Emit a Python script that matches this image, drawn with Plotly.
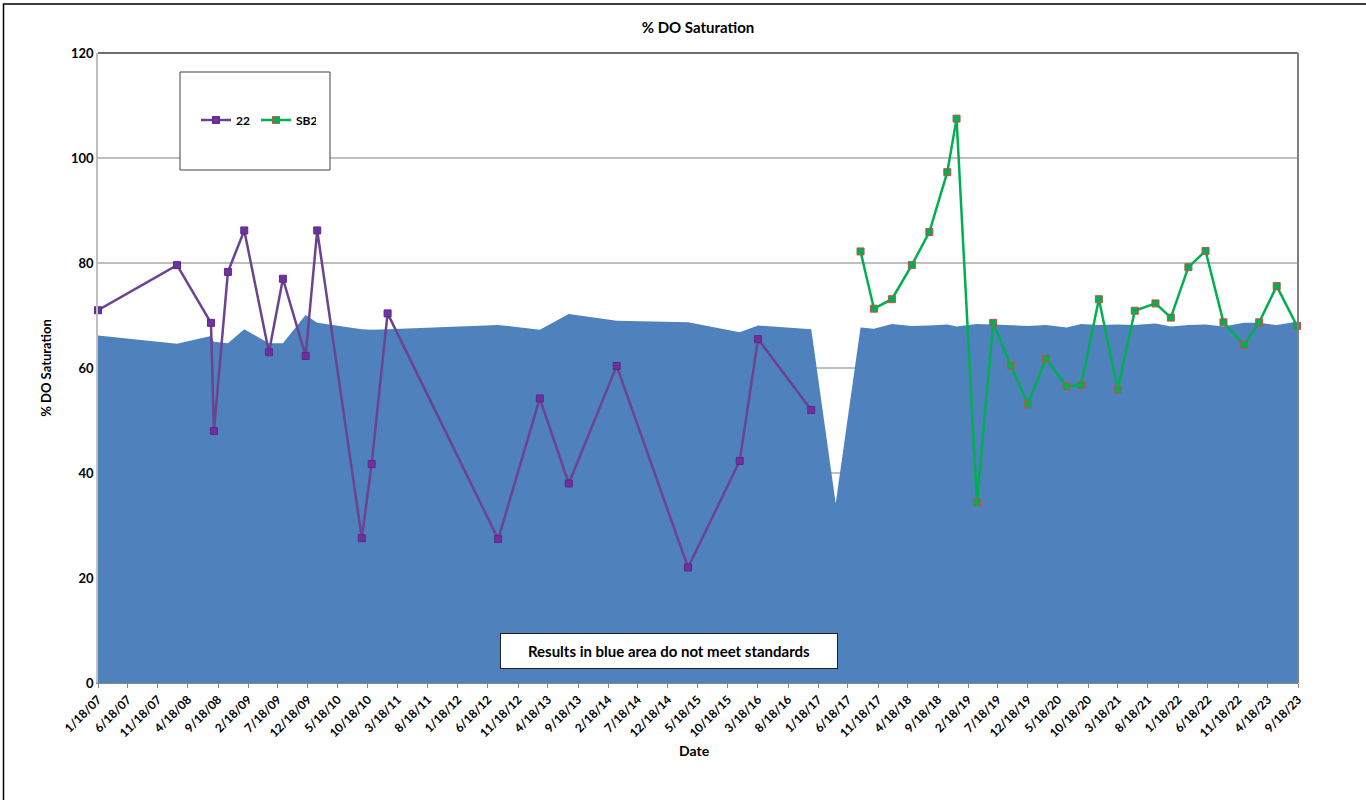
import pandas as pd
import plotly.graph_objects as go

# ---------------- data ----------------
site22_dates = ["2007-01-18", "2008-02-23", "2008-08-13", "2008-08-28", "2008-11-07",
                "2009-01-29", "2009-06-03", "2009-08-13", "2009-12-06", "2010-02-03",
                "2010-09-17", "2010-11-06", "2011-01-26", "2012-08-09", "2013-03-08",
                "2013-08-02", "2014-04-02", "2015-03-30", "2015-12-17", "2016-03-19",
                "2016-12-14"]
site22_values = [71.0, 79.6, 68.6, 48.0, 78.3, 86.2, 63.0, 77.0, 62.3, 86.2,
                 27.6, 41.7, 70.4, 27.4, 54.2, 38.0, 60.4, 22.0, 42.3, 65.5, 52.0]

sb2_dates = ["2017-08-21", "2017-10-28", "2018-01-27", "2018-05-08", "2018-08-05",
             "2018-11-04", "2018-12-21", "2019-04-03", "2019-06-25", "2019-09-22",
             "2019-12-18", "2020-03-18", "2020-07-01", "2020-09-13", "2020-12-12",
             "2021-03-18", "2021-06-12", "2021-09-25", "2021-12-12", "2022-03-11",
             "2022-06-06", "2022-09-05", "2022-12-19", "2023-03-05", "2023-06-02",
             "2023-09-13"]
sb2_values = [82.2, 71.3, 73.1, 79.6, 85.9, 97.3, 107.5, 34.4, 68.6, 60.5,
              53.1, 61.8, 56.5, 56.8, 73.1, 55.9, 70.9, 72.3, 69.6, 79.2,
              82.3, 68.7, 64.4, 68.7, 75.6, 68.0]

standard_dates = site22_dates + ["2017-04-17"] + sb2_dates
standard_values = [66.2, 64.6, 66.1, 65.0, 64.7, 67.4, 64.7, 64.7, 70.1, 68.6,
                   67.4, 67.3, 67.4, 68.2, 67.3, 70.3, 69.0, 68.7, 66.8, 68.1, 67.4,
                   34.2,
                   67.7, 67.5, 68.4, 68.0, 68.1, 68.3, 67.9, 68.4, 68.3, 68.1,
                   68.0, 68.2, 67.7, 68.4, 68.2, 68.3, 68.2, 68.5, 67.9, 68.2,
                   68.3, 67.9, 68.6, 68.6, 68.2, 68.8]

tick_labels = ["1/18/07", "6/18/07", "11/18/07", "4/18/08", "9/18/08", "2/18/09",
               "7/18/09", "12/18/09", "5/18/10", "10/18/10", "3/18/11", "8/18/11",
               "1/18/12", "6/18/12", "11/18/12", "4/18/13", "9/18/13", "2/18/14",
               "7/18/14", "12/18/14", "5/18/15", "10/18/15", "3/18/16", "8/18/16",
               "1/18/17", "6/18/17", "11/18/17", "4/18/18", "9/18/18", "2/18/19",
               "7/18/19", "12/18/19", "5/18/20", "10/18/20", "3/18/21", "8/18/21",
               "1/18/22", "6/18/22", "11/18/22", "4/18/23", "9/18/23"]
tick_vals = pd.to_datetime(tick_labels, format="%m/%d/%y")

FONT = "Lato"

fig = go.Figure()

fig.add_trace(go.Scatter(
    x=pd.to_datetime(standard_dates), y=standard_values,
    mode="lines", fill="tozeroy", fillcolor="#4F81BD",
    line=dict(color="#4F81BD", width=0), showlegend=False, hoverinfo="skip"))

fig.add_trace(go.Scatter(
    x=pd.to_datetime(site22_dates), y=site22_values, name="22",
    mode="lines+markers", cliponaxis=False,
    line=dict(color="#6A4391", width=2.5),
    marker=dict(symbol="square", size=7, color="#7030A0",
                line=dict(color="#5A2A85", width=1))))

fig.add_trace(go.Scatter(
    x=pd.to_datetime(sb2_dates), y=sb2_values, name="SB2",
    mode="lines+markers", cliponaxis=False,
    line=dict(color="#00B050", width=2.5),
    marker=dict(symbol="square", size=7, color="#00B050",
                line=dict(color="#C0504D", width=1))))

L, R, T, B = 98, 68, 53, 117
W, H = 1366, 800
pw, ph = W - L - R, H - T - B


def px_x(p):
    return (p - L) / pw


def px_y(p):
    return (H - B - p) / ph


fig.update_layout(
    width=W, height=H,
    margin=dict(l=L, r=R, t=T, b=B),
    paper_bgcolor="white", plot_bgcolor="white",
    font=dict(family=FONT, color="#000000", size=11),
    title=dict(text="<b>% DO Saturation</b>", x=0.5, xref="paper",
               y=1 - 28 / H, yanchor="middle", yref="container",
               font=dict(size=15, family=FONT)),
    showlegend=True,
    legend=dict(orientation="h", x=px_x(196), y=px_y(120),
                xanchor="left", yanchor="middle",
                bgcolor="rgba(0,0,0,0)", borderwidth=0,
                font=dict(size=12, family=FONT, weight="bold"),
                itemwidth=30, entrywidth=15, tracegroupgap=0),
    xaxis=dict(type="date",
               range=[tick_vals[0], tick_vals[-1]],
               tickmode="array", tickvals=tick_vals, ticktext=tick_labels,
               tickangle=-45, tickfont=dict(size=12, family=FONT, weight="bold"),
               ticks="outside", ticklen=4, tickcolor="#868686",
               showline=True, linecolor="#868686", linewidth=1,
               showgrid=False, zeroline=False),
    yaxis=dict(range=[0, 120], dtick=20, tick0=0,
               tickfont=dict(size=13, family=FONT, weight="bold"),
               ticks="", showline=True, linecolor="#BFBFBF", linewidth=1.5,
               showgrid=True, gridcolor="#BFBFBF", gridwidth=1.5,
               zeroline=False,
               title=dict(text="<b>% DO Saturation</b>", standoff=16,
                          font=dict(size=13, family=FONT))),
)

# plot-area frame (top dark, right grey)
fig.add_shape(type="line", xref="paper", yref="paper", x0=0, x1=1, y0=1, y1=1,
              line=dict(color="#404040", width=1.5), layer="above")
fig.add_shape(type="line", xref="paper", yref="paper", x0=1, x1=1, y0=0, y1=1,
              line=dict(color="#808080", width=2), layer="above")

# outer chart border
fig.add_shape(type="rect", xref="paper", yref="paper",
              x0=px_x(3.5), x1=px_x(1380), y0=px_y(4), y1=px_y(820),
              line=dict(color="#000000", width=1.5), fillcolor="rgba(0,0,0,0)")

# legend box
fig.add_shape(type="rect", xref="paper", yref="paper",
              x0=px_x(180), x1=px_x(330), y0=px_y(170), y1=px_y(72),
              line=dict(color="#404040", width=1), fillcolor="white", layer="above")

# note box
fig.add_annotation(text="<b>Results in blue area do not meet standards</b>",
                   xref="paper", yref="paper", x=px_x(669), y=px_y(651),
                   xanchor="center", yanchor="middle", showarrow=False,
                   width=330, height=28, bgcolor="white",
                   bordercolor="#202020", borderwidth=1, borderpad=3,
                   font=dict(size=15, family=FONT, color="#000000"))

# x-axis title
fig.add_annotation(text="<b>Date</b>", xref="paper", yref="paper",
                   x=px_x(694), y=px_y(750), xanchor="center", yanchor="middle",
                   showarrow=False, font=dict(size=14, family=FONT))

fig.write_html("out.html", config={"displayModeBar": False},
               post_script="document.body.style.margin='0';document.body.style.overflow='hidden';")
